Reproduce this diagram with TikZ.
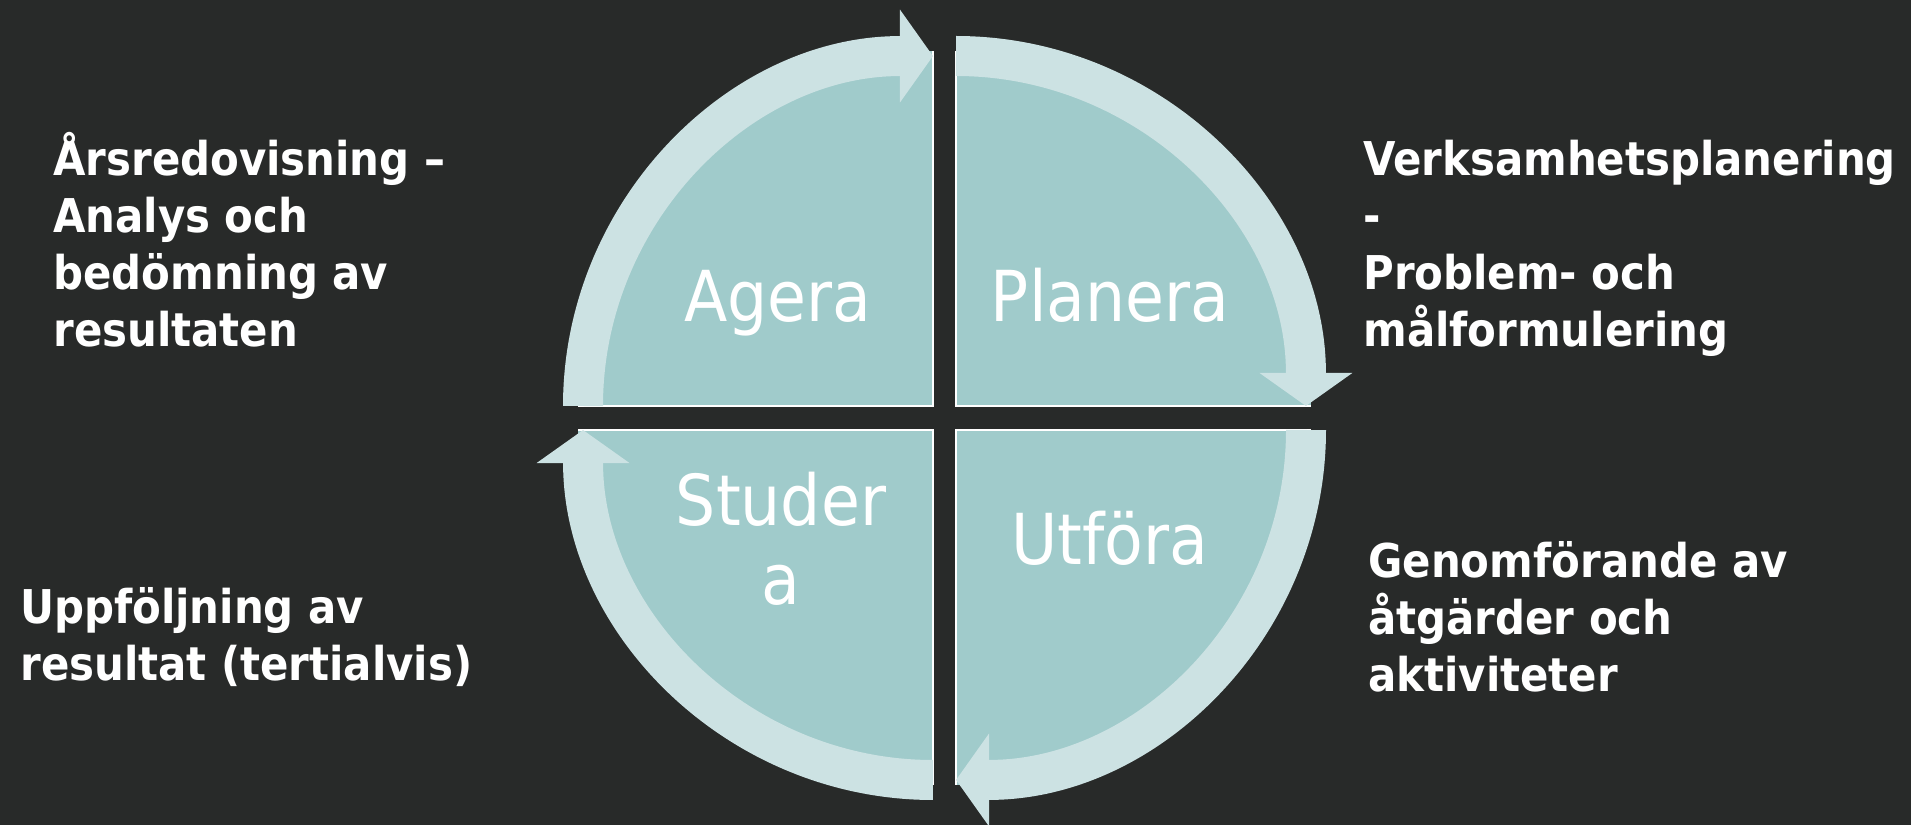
\documentclass[tikz,border=0pt]{standalone}
\usepackage{fontspec}
\setmainfont{DejaVu Sans Condensed}[BoldFont={DejaVu Sans Condensed Bold}]
\usetikzlibrary{arrows.meta}

\definecolor{backdrop}{RGB}{40,42,41}
\definecolor{quadfill}{RGB}{160,203,203}
\definecolor{bandfill}{RGB}{204,226,227}

\tikzset{
	quad/.style={fill=quadfill},
	quadedge/.style={draw=white, line width=0.8pt},
	band/.style={draw=bandfill, line width=0.8cm,
		-{Triangle[width=1.86cm,length=0.66cm,line width=0pt]}},
	phase/.style={text=white, inner sep=0pt, align=center,
		font=\fontsize{40}{45.5}\selectfont},
	note/.style={text=white, inner sep=0pt, align=left,
		font=\fontsize{26.5}{32.5}\selectfont\bfseries},
}

\begin{document}
\begin{tikzpicture}[x=0.02cm,y=0.02cm]
	\useasboundingbox (0,0) rectangle (1911,825);
	\fill[backdrop] (0,0) rectangle (1911,825);

	% quadrant corners
	\coordinate (ageraC) at (933,419);
	\coordinate (planeraC) at (956,419);
	\coordinate (utforaC) at (956,395);
	\coordinate (studeraC) at (933,395);

	% Agera
	\fill[quad] (ageraC) -- ++(-355,0) arc[start angle=180,end angle=90,radius=7.1cm] -- cycle;
	\draw[quadedge] (ageraC) ++(-355,0) -- (ageraC) -- ++(0,355);
	\draw[band] (ageraC) ++(-350,0) arc[start angle=180,end angle=90,radius=7cm];

	% Planera
	\fill[quad] (planeraC) -- ++(0,355) arc[start angle=90,end angle=0,radius=7.1cm] -- cycle;
	\draw[quadedge] (planeraC) ++(0,355) -- (planeraC) -- ++(355,0);
	\draw[band] (planeraC) ++(0,350) arc[start angle=90,end angle=0,radius=7cm];

	% Utfora
	\fill[quad] (utforaC) -- ++(355,0) arc[start angle=0,end angle=-90,radius=7.1cm] -- cycle;
	\draw[quadedge] (utforaC) ++(355,0) -- (utforaC) -- ++(0,-355);
	\draw[band] (utforaC) ++(350,0) arc[start angle=0,end angle=-90,radius=7cm];

	% Studera
	\fill[quad] (studeraC) -- ++(0,-355) arc[start angle=-90,end angle=-180,radius=7.1cm] -- cycle;
	\draw[quadedge] (studeraC) ++(0,-355) -- (studeraC) -- ++(-355,0);
	\draw[band] (studeraC) ++(0,-350) arc[start angle=-90,end angle=-180,radius=7cm];

	% phase names (base = last line)
	\node[phase, anchor=base] (agera) at (778,503) {Agera};
	\node[phase, anchor=base] (planera) at (1110,503) {Planera};
	\node[phase, anchor=base] (utfora) at (1110,260) {Utföra};
	\node[phase, anchor=base] (studera) at (781,220) {Studer\\a};

	% notes
	\node[note, anchor=base west] (arsred) at (53,478)
		{Årsredovisning –\\Analys och\\bedömning av\\resultaten};
	\node[note, anchor=base west] (verkplan) at (1363,478)
		{Verksamhetsplanering\\-\\Problem- och\\målformulering};
	\node[note, anchor=base west] (uppfolj) at (20,144)
		{Uppföljning av\\resultat (tertialvis)};
	\node[note, anchor=base west] (genomf) at (1368,133)
		{Genomförande av\\åtgärder och\\aktiviteter};
\end{tikzpicture}
\end{document}
